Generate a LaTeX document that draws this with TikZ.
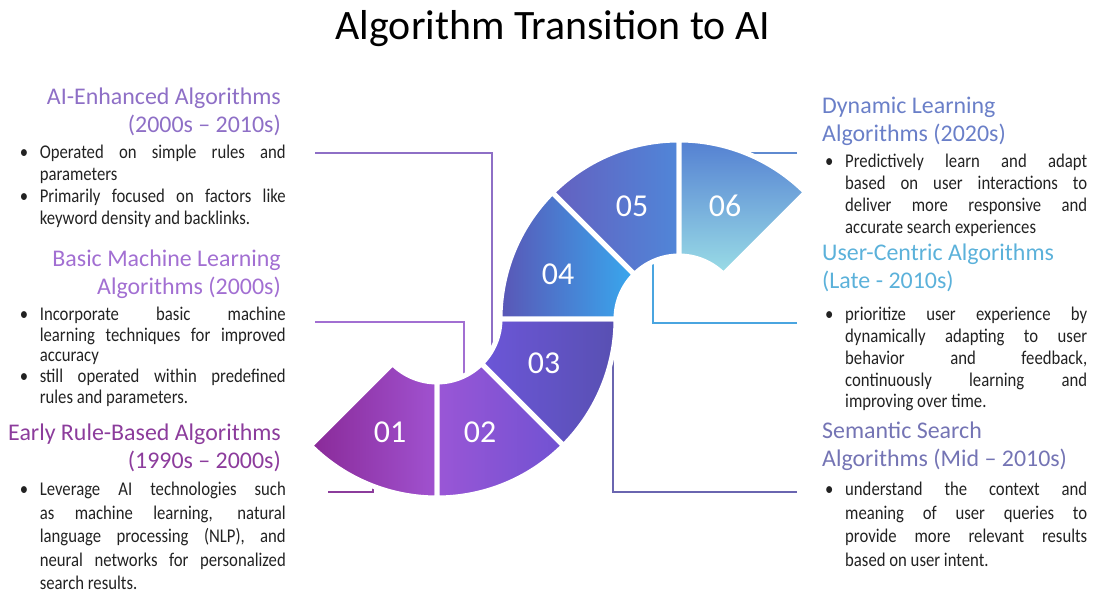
\documentclass[tikz,border=0pt]{standalone}
\usepackage{fontspec}
\setmainfont{Carlito}
\newfontfamily\bodyfont{Carlito}[FakeStretch=0.86]
\usetikzlibrary{positioning}
\usetikzlibrary{calc}

\definecolor{bodygray}{HTML}{222222}
\definecolor{hdA}{HTML}{8E6FC6}
\definecolor{hdB}{HTML}{A26FD2}
\definecolor{hdC}{HTML}{8C3C9C}
\definecolor{hdD}{HTML}{6A7FC8}
\definecolor{hdE}{HTML}{5BB1DA}
\definecolor{hdF}{HTML}{7474B4}

\newcommand{\bitem}{\par\hangindent=20bp\hangafter=1\noindent\makebox[20bp][l]{\textbullet}}

\begin{document}
\begin{tikzpicture}[x=1bp, y=1bp]
  \tikzstyle{seg}=[draw = white, line width = 5bp, line join = round]
  \tikzstyle{num}=[text = white, font = \fontsize{32}{32}\selectfont]
  \tikzstyle{head}=[inner sep = 0pt, font = \fontsize{24}{28}\selectfont]
  \tikzstyle{body}=[inner sep = 0pt, text width = 266bp, align = justify, text = bodygray, font = \bodyfont\fontsize{19.5}{22}\selectfont]
  \tikzstyle{link}=[line width = 1.8bp]

  \useasboundingbox (0,0) rectangle (1093,594);

  \node[font = \fontsize{42}{42}\selectfont] (title) at (553,565) {Algorithm Transition to AI};

  % ring centres
  \coordinate (cb) at (437,275);
  \coordinate (ct) at (679,275);

  % connector ends
  \coordinate (p1) at (315,441);  \coordinate (q1) at (492,238);
  \coordinate (p2) at (315,272);  \coordinate (q2) at (464,218);
  \coordinate (p3) at (328,102);  \coordinate (q3) at (373,112);
  \coordinate (p4) at (797,441);  \coordinate (q4) at (752,434);
  \coordinate (p5) at (797,271);  \coordinate (q5) at (653,333);
  \coordinate (p6) at (797,102);  \coordinate (q6) at (613,272);

  \draw[link, draw = hdA] (p1) -| (q1);
  \draw[link, draw = hdB] (p2) -| (q2);
  \draw[link, draw = hdC] (p3) -| (q3);
  \draw[link, draw = {rgb,255:red,95;green,138;blue,208}] (p4) -| (q4);
  \draw[link, draw = {rgb,255:red,74;green,165;blue,224}] (p5) -| (q5);
  \draw[link, draw = {rgb,255:red,106;green,101;blue,176}] (p6) -| (q6);

  % lower half ring
  \path[seg, left color = {rgb,255:red,138;green,42;blue,152}, right color = {rgb,255:red,160;green,82;blue,208}]
    ($(cb)+(225:179bp)$) arc[start angle = 225, end angle = 270, radius = 179bp]
    -- ($(cb)+(270:63bp)$) arc[start angle = 270, end angle = 225, radius = 63bp] -- cycle;
  \path[seg, left color = {rgb,255:red,154;green,86;blue,214}, right color = {rgb,255:red,112;green,82;blue,210}]
    ($(cb)+(270:179bp)$) arc[start angle = 270, end angle = 315, radius = 179bp]
    -- ($(cb)+(315:63bp)$) arc[start angle = 315, end angle = 270, radius = 63bp] -- cycle;
  \path[seg, left color = {rgb,255:red,108;green,86;blue,216}, right color = {rgb,255:red,88;green,80;blue,178}]
    ($(cb)+(315:179bp)$) arc[start angle = 315, end angle = 360, radius = 179bp]
    -- ($(cb)+(360:63bp)$) arc[start angle = 360, end angle = 315, radius = 63bp] -- cycle;

  % upper half ring
  \path[seg, left color = {rgb,255:red,90;green,86;blue,182}, right color = {rgb,255:red,56;green,168;blue,238}]
    ($(ct)+(180:179bp)$) arc[start angle = 180, end angle = 135, radius = 179bp]
    -- ($(ct)+(135:63bp)$) arc[start angle = 135, end angle = 180, radius = 63bp] -- cycle;
  \path[seg, left color = {rgb,255:red,100;green,96;blue,192}, right color = {rgb,255:red,80;green,134;blue,216}]
    ($(ct)+(135:179bp)$) arc[start angle = 135, end angle = 90, radius = 179bp]
    -- ($(ct)+(90:63bp)$) arc[start angle = 90, end angle = 135, radius = 63bp] -- cycle;
  \path[seg, top color = {rgb,255:red,84;green,128;blue,210}, bottom color = {rgb,255:red,154;green,221;blue,230}]
    ($(ct)+(90:179bp)$) arc[start angle = 90, end angle = 45, radius = 179bp]
    -- ($(ct)+(45:63bp)$) arc[start angle = 45, end angle = 90, radius = 63bp] -- cycle;

  \node[num] (n1) at (390,162) {01};
  \node[num] (n2) at (480,162) {02};
  \node[num] (n3) at (544,231) {03};
  \node[num] (n4) at (558,320) {04};
  \node[num] (n5) at (632,388) {05};
  \node[num] (n6) at (725,388) {06};

  % left column
  \node[head, text = hdA, align = right, anchor = north east] (h1) at (281,506) {AI-Enhanced Algorithms\\(2000s -- 2010s)};
  \node[body, below = 0bp of h1.south east, anchor = north east, xshift = 5bp] (b1) {%
    \bitem Operated on simple rules and\linebreak parameters
    \bitem Primarily focused on factors like\linebreak keyword density and backlinks.\par};

  \node[head, text = hdB, align = right, anchor = north east] (h2) at (281,344) {Basic Machine Learning\\Algorithms (2000s)};
  \node[body, below = 0bp of h2.south east, anchor = north east, xshift = 5bp, font = \bodyfont\fontsize{19.5}{21}\selectfont] (b2) {%
    \bitem Incorporate basic machine\linebreak learning techniques for improved\linebreak accuracy
    \bitem still operated within predefined\linebreak rules and parameters.\par};

  \node[head, text = hdC, align = right, anchor = north east] (h3) at (281,170) {Early Rule-Based Algorithms\\(1990s -- 2000s)};
  \node[body, below = 0bp of h3.south east, anchor = north east, xshift = 5bp, font = \bodyfont\fontsize{19.5}{23.5}\selectfont] (b3) {%
    \bitem Leverage AI technologies such\linebreak as machine learning, natural\linebreak language processing (NLP), and\linebreak neural networks for personalized\linebreak search results.\par};

  % right column
  \node[head, text = hdD, align = left, anchor = north west] (h4) at (822,497) {Dynamic Learning\\Algorithms (2020s)};
  \node[body, below = 0bp of h4.south west, anchor = north west, xshift = 3bp, text width = 262bp] (b4) {%
    \bitem Predictively learn and adapt\linebreak based on user interactions to\linebreak deliver more responsive and\linebreak accurate search experiences\par};

  \node[head, text = hdE, align = left, anchor = north west] (h5) at (822,350) {User-Centric Algorithms\\(Late - 2010s)};
  \node[body, below = 6bp of h5.south west, anchor = north west, xshift = 3bp, text width = 262bp] (b5) {%
    \bitem prioritize user experience by\linebreak dynamically adapting to user\linebreak behavior and feedback,\linebreak continuously learning and\linebreak improving over time.\par};

  \node[head, text = hdF, align = left, anchor = north west] (h6) at (822,172) {Semantic Search\\Algorithms (Mid -- 2010s)};
  \node[body, below = 0bp of h6.south west, anchor = north west, xshift = 3bp, text width = 262bp, font = \bodyfont\fontsize{19.5}{24}\selectfont] (b6) {%
    \bitem understand the context and\linebreak meaning of user queries to\linebreak provide more relevant results\linebreak based on user intent.\par};

\end{tikzpicture}
\end{document}
